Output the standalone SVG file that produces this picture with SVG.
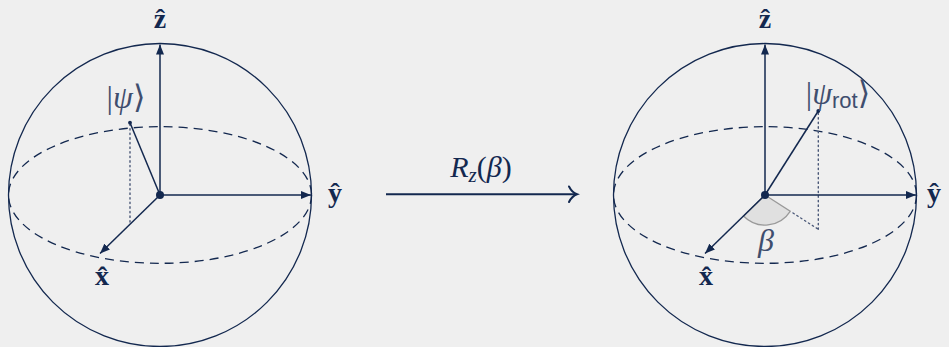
<svg xmlns="http://www.w3.org/2000/svg" width="949" height="347" viewBox="0 0 949 347">
<defs>
<style>
.bg{fill:#efefef}
.sphere{fill:none;stroke:#13284f;stroke-width:1.3}
.equator{fill:none;stroke:#13284f;stroke-width:1.3;stroke-dasharray:9 6}
.axis{fill:none;stroke:#13284f;stroke-width:1.5;marker-end:url(#tip)}
.state{fill:none;stroke:#13284f;stroke-width:1.5}
.dots{fill:none;stroke:#4a5878;stroke-width:1.4;stroke-dasharray:1.4 3.2;stroke-linecap:round}
.origin{fill:#13284f}
.axlabel{font-family:"Liberation Serif","DejaVu Serif",serif;font-weight:bold;font-size:28px;fill:#13284f;text-anchor:middle}
.ket{font-family:"Liberation Serif","DejaVu Serif",serif;font-size:32px;fill:#3f4e6e;text-anchor:middle}
.wedge{fill:#e0e0e0;stroke:#9a9a9a;stroke-width:1.3}
.op{font-family:"Liberation Serif","DejaVu Serif",serif;font-size:30px;fill:#13284f;text-anchor:middle}
.conn{fill:none;stroke:#13284f;stroke-width:2}
</style>
<marker id="tip" viewBox="0 0 10 8" refX="10" refY="4" markerWidth="10" markerHeight="8" markerUnits="userSpaceOnUse" orient="auto">
<path d="M0,0 L10,4 L0,8 Z" fill="#13284f"/>
</marker>
</defs>
<rect class="bg" x="0" y="0" width="949" height="347"/>

<g id="sphere-initial">
<circle class="sphere" cx="160" cy="195" r="151.5"/>
<ellipse class="equator" cx="160" cy="195" rx="151.5" ry="68.3"/>
<line class="axis" x1="160" y1="195" x2="160" y2="44.5"/>
<line class="axis" x1="160" y1="195" x2="311" y2="195"/>
<line class="axis" x1="160" y1="195" x2="100" y2="253.5"/>
<line class="dots" x1="130" y1="124" x2="130" y2="222"/>
<line class="state" x1="160" y1="195" x2="130" y2="122.7"/>
<circle class="origin" cx="130" cy="122.7" r="1.9"/>
<circle class="origin" cx="160" cy="195" r="4"/>
<text class="axlabel" x="160" y="28">ẑ</text>
<text class="axlabel" x="335" y="202">ŷ</text>
<text class="axlabel" x="102" y="285">x̂</text>
<text class="ket" x="126" y="108">|<tspan font-style="italic">ψ</tspan>⟩</text>
</g>

<g id="sphere-rotated">
<circle class="sphere" cx="765" cy="195" r="151.5"/>
<ellipse class="equator" cx="765" cy="195" rx="151.5" ry="68.3"/>
<path class="wedge" d="M765,195 L790.2,211.3 A30,30 0 0 1 743.5,216 Z"/>
<line class="dots" x1="793" y1="213" x2="818.3" y2="229.3"/>
<line class="dots" x1="818.3" y1="113" x2="818.3" y2="229.3"/>
<line class="axis" x1="765" y1="195" x2="765" y2="44.5"/>
<line class="axis" x1="765" y1="195" x2="916" y2="195"/>
<line class="axis" x1="765" y1="195" x2="705" y2="253.5"/>
<line class="state" x1="765" y1="195" x2="818.3" y2="111"/>
<circle class="origin" cx="818.3" cy="111" r="1.9"/>
<circle class="origin" cx="765" cy="195" r="4"/>
<text class="axlabel" x="765" y="28">ẑ</text>
<text class="axlabel" x="934" y="202">ŷ</text>
<text class="axlabel" x="706" y="285">x̂</text>
<text class="ket" x="838" y="104">|<tspan font-style="italic">ψ</tspan><tspan font-family="Liberation Sans,DejaVu Sans,sans-serif" font-size="22" dy="4">rot</tspan><tspan dy="-4">⟩</tspan></text>
<text class="ket" x="766" y="251" font-style="italic" font-size="28">β</text>
</g>

<g id="connectors">
<line class="conn" x1="386" y1="194.3" x2="575" y2="194.3"/>
<path class="conn" d="M569,186.5 Q572,192.5 577,194.3 Q572,196.1 569,202" stroke-linecap="round"/>
<text class="op" x="481" y="177"><tspan font-style="italic">R</tspan><tspan font-style="italic" font-size="21" dy="5">z</tspan><tspan dy="-5">(</tspan><tspan font-style="italic">β</tspan>)</text>
</g>
</svg>
